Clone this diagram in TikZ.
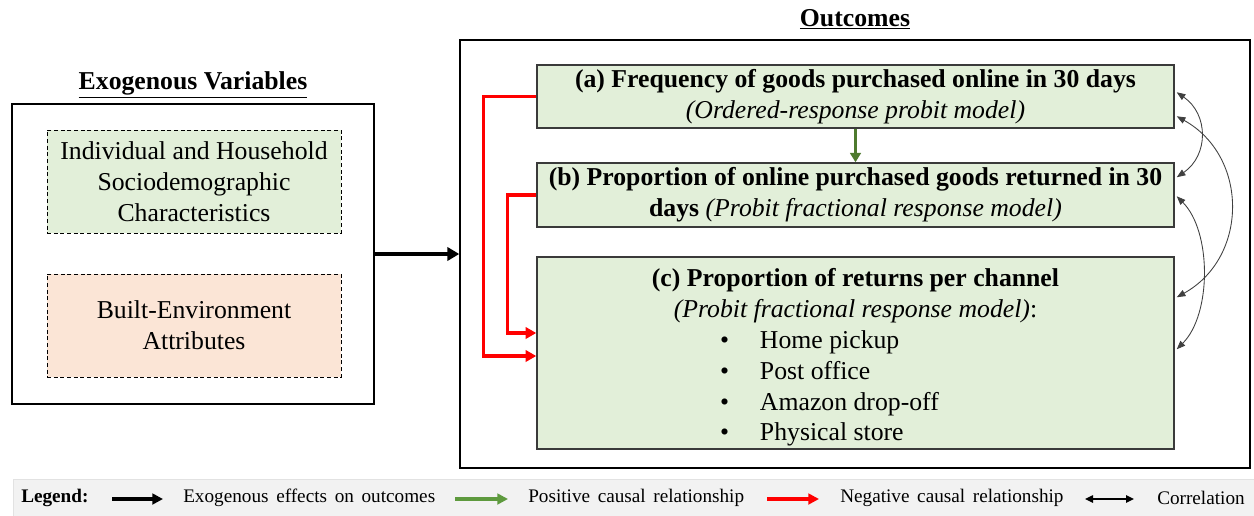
\documentclass[tikz,border=0pt]{standalone}
\usepackage{fontspec}
\setmainfont{Liberation Serif}
\usetikzlibrary{arrows.meta,calc}
\definecolor{gfill}{HTML}{E2EFD9}
\definecolor{ofill}{HTML}{FBE5D6}
\definecolor{bordergray}{HTML}{3A3A3A}
\definecolor{darkgreen}{HTML}{4E7A2E}
\definecolor{leggreen}{HTML}{5E9A3E}
\definecolor{legbg}{HTML}{F2F2F2}
\definecolor{legline}{HTML}{E2E2E2}
\definecolor{corrgray}{HTML}{404040}
\newcommand{\bigfont}{\fontsize{19.3}{23.1}\selectfont}
\newcommand{\legfont}{\fontsize{14.4}{17}\selectfont\spaceskip=0.40em plus 0.05em}
\tikzset{
  x=0.75pt, y=-0.75pt,
  outerbox/.style={draw=black, line width=1.1pt, fill=white, inner sep=0pt},
  dashbox/.style={draw=black, line width=0.7pt, dash pattern=on 3pt off 2pt, inner sep=0pt, align=center, font=\bigfont},
  outbox/.style={draw=bordergray, line width=1.1pt, fill=gfill, inner sep=0pt, align=center, font=\bigfont},
  title/.style={font=\bigfont\bfseries, inner sep=0pt},
  blackarrow/.style={draw=black, line width=2.7pt, -{Triangle[length=9pt,width=10pt]}},
  greenarrow/.style={draw=darkgreen, line width=2.2pt, -{Triangle[length=7pt,width=8pt]}},
  redarrow/.style={draw=red, line width=2.3pt, -{Triangle[length=8pt,width=8.5pt]}},
  corr/.style={draw=corrgray, line width=0.65pt, {Triangle[length=6.5pt,width=5pt]}-{Triangle[length=6.5pt,width=5pt]}},
  legtext/.style={font=\legfont, inner sep=0pt, anchor=west},
  legblack/.style={draw=black, line width=2.6pt, -{Triangle[length=8pt,width=8pt]}},
  leggreenarrow/.style={draw=leggreen, line width=2.6pt, -{Triangle[length=8pt,width=8pt]}},
  legred/.style={draw=red, line width=2.6pt, -{Triangle[length=8pt,width=8pt]}},
  legcorr/.style={draw=black, line width=1.1pt, {Triangle[length=6pt,width=5.5pt]}-{Triangle[length=6pt,width=5.5pt]}},
}
\begin{document}
\begin{tikzpicture}
\useasboundingbox (0,0) rectangle (1254,515);

% titles
\node[title] (exot) at (193,85) {\underline{Exogenous Variables}};
\node[title] (outt) at (855,19) {\underline{Outcomes}};

% left side
\node[outerbox, minimum width=271.5pt, minimum height=225pt] (exo) at (193,254) {};
\node[dashbox, fill=gfill, minimum width=220.5pt, minimum height=77.25pt] (socio) at (194,181.5)
  {Individual and Household\\Sociodemographic\\Characteristics};
\node[dashbox, fill=ofill, minimum width=220.5pt, minimum height=77.25pt] (built) at (194,325.5)
  {Built-Environment\\Attributes};

% right side
\node[outerbox, minimum width=592.5pt, minimum height=321pt] (out) at (855,254) {};
\node[outbox, minimum width=477.75pt, minimum height=47.25pt] (a) at (855.5,96.5)
  {\textbf{(a) Frequency of goods purchased online in 30 days}\\\textit{(Ordered-response probit model)}};
\node[outbox, minimum width=477.75pt, minimum height=48pt] (b) at (855.5,195)
  {\textbf{(b) Proportion of online purchased goods returned in 30}\\\textbf{days} \textit{(Probit fractional response model)}};
\node[outbox, minimum width=477.75pt, minimum height=144pt] (c) at (855.5,353)
  {\raisebox{-3.5pt}[\height][\depth]{\parbox{400pt}{\centering
   \textbf{(c) Proportion of returns per channel}\\
   \textit{(Probit fractional response model)}:\\
   \makebox[203.25pt][l]{\makebox[30pt][l]{\textbullet}Home pickup}\\
   \makebox[203.25pt][l]{\makebox[30pt][l]{\textbullet}Post office}\\
   \makebox[203.25pt][l]{\makebox[30pt][l]{\textbullet}Amazon drop-off}\\
   \makebox[203.25pt][l]{\makebox[30pt][l]{\textbullet}Physical store}}}};

% arrows
\draw[blackarrow] (exo.east) -- (out.west);
\draw[greenarrow] (a.south) -- (b.north);
\draw[redarrow] (a.west) -- ++(-53,0) |- ($(c.west)+(0,3)$);
\draw[redarrow] (b.west) -- ++(-29,0) |- ($(c.west)+(0,-20)$);

% correlations
\coordinate (a1) at ($(a.north east)+(2,28)$);
\coordinate (a2) at ($(a.north east)+(2,52)$);
\coordinate (b1) at ($(b.north east)+(2,15)$);
\coordinate (b2) at ($(b.north east)+(2,34)$);
\coordinate (c1) at ($(c.north east)+(2,41)$);
\coordinate (c2) at ($(c.north east)+(2,93)$);
\draw[corr] (a1) .. controls +(32,22) and +(32,-22) .. (b1);
\draw[corr] (a2) .. controls +(72,40) and +(72,-40) .. (c1);
\draw[corr] (b2) .. controls +(35,35) and +(35,-35) .. (c2);

% legend
\node[draw=legline, fill=legbg, line width=0.6pt, minimum width=931pt, minimum height=27.75pt, inner sep=0pt, anchor=north west] (leg) at (13,479) {};
\node[legtext, font=\legfont\bfseries] (lt) at (21,498) {Legend:};
\coordinate (l1s) at (112,499); \coordinate (l1e) at (163,499);
\coordinate (l2s) at (455,499); \coordinate (l2e) at (508,499);
\coordinate (l3s) at (767,499); \coordinate (l3e) at (819,499);
\coordinate (l4s) at (1085,499); \coordinate (l4e) at (1134,499);
\draw[legblack] (l1s) -- (l1e);
\draw[leggreenarrow] (l2s) -- (l2e);
\draw[legred] (l3s) -- (l3e);
\draw[legcorr] (l4s) -- (l4e);
\node[legtext] (lx1) at (183,498) {Exogenous effects on outcomes};
\node[legtext] (lx2) at (528,498) {Positive causal relationship};
\node[legtext] (lx3) at (840,498) {Negative causal relationship};
\node[legtext] (lx4) at (1157,498) {Correlation};
\end{tikzpicture}
\end{document}
